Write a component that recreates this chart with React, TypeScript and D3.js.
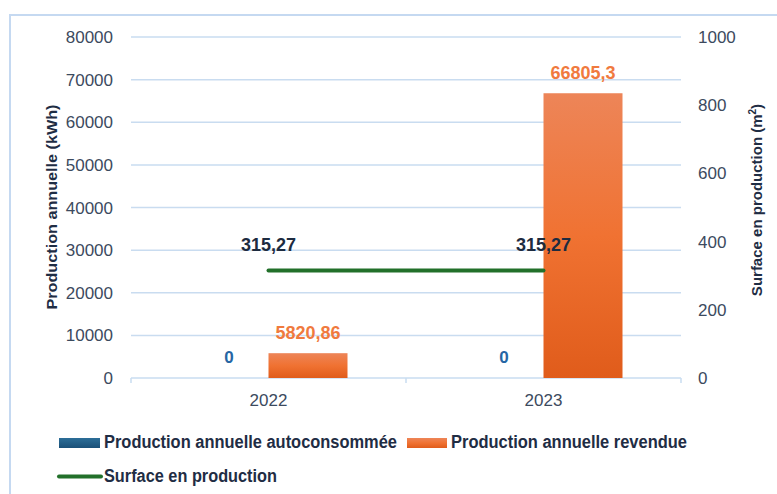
import React from "react";
import * as d3 from "d3";

const categories = ["2022", "2023"];
const autoconsommee = [0, 0];
const revendue = [5820.86, 66805.3];
const surface = [315.27, 315.27];
const leftTicks = [0, 10000, 20000, 30000, 40000, 50000, 60000, 70000, 80000];
const rightTicks = [0, 200, 400, 600, 800, 1000];

const fmt = (v: number) => String(v).replace(".", ",");

export default function App() {
  const W = 777, H = 494;
  const left = 131, right = 681, top = 37, bottom = 378;
  const x = d3.scaleBand<string>().domain(categories).range([left, right]);
  const yL = d3.scaleLinear().domain([0, 80000]).range([bottom, top]);
  const yR = d3.scaleLinear().domain([0, 1000]).range([bottom, top]);
  const barW = 79;
  const tickColor = "#3c4a5e";
  const grid = "#c9dcf0";
  const font = "'Liberation Sans', Arial, sans-serif";
  const legendFont = "'Liberation Sans Narrow', 'Arial Narrow', 'Liberation Sans', sans-serif";
  const line = d3.line<number>().x((_, i) => x(categories[i])! + x.bandwidth() / 2).y((d) => yR(d));

  return (
    <svg width={W} height={H} style={{ position: "absolute", left: 0, top: 0 }}>
      <defs>
        <linearGradient id="og" x1="0" y1="0" x2="0" y2="1">
          <stop offset="0" stopColor="#ed8558" />
          <stop offset="0.5" stopColor="#f07232" />
          <stop offset="1" stopColor="#e05c1b" />
        </linearGradient>
        <linearGradient id="bg" x1="0" y1="0" x2="0" y2="1">
          <stop offset="0" stopColor="#2c6e98" />
          <stop offset="1" stopColor="#1a5078" />
        </linearGradient>
      </defs>
      <rect x={0} y={0} width={W} height={H} fill="#fff" />
      <rect x={10} y={15} width={W} height={H} fill="none" stroke="#c5d9f1" strokeWidth={2} />
      {leftTicks.map((t) => (
        <g key={t}>
          {t > 0 && <line x1={left} x2={right} y1={yL(t)} y2={yL(t)} stroke={grid} strokeWidth={1.5} />}
          <text x={113} y={yL(t) + 6} textAnchor="end" fontSize={17} fill={tickColor} fontFamily={font}>{t}</text>
        </g>
      ))}
      {rightTicks.map((t) => (
        <text key={t} x={698} y={yR(t) + 6} fontSize={17} fill={tickColor} fontFamily={font}>{t}</text>
      ))}
      <line x1={left} x2={right} y1={bottom} y2={bottom} stroke={grid} strokeWidth={1.5} />
      {[left, left + x.step(), right].map((tx) => (
        <line key={tx} x1={tx} x2={tx} y1={bottom} y2={bottom + 5} stroke={grid} strokeWidth={1.5} />
      ))}
      {categories.map((c, i) => {
        const cx = x(c)! + x.bandwidth() / 2;
        return (
          <g key={c}>
            <rect x={cx - barW} y={yL(autoconsommee[i])} width={barW} height={bottom - yL(autoconsommee[i])} fill="url(#bg)" />
            <rect x={cx} y={yL(revendue[i])} width={barW} height={bottom - yL(revendue[i])} fill="url(#og)" />
            <text x={cx - barW / 2} y={363} textAnchor="middle" fontSize={17} fontWeight="bold" fill="#2566a4" fontFamily={font}>{fmt(autoconsommee[i])}</text>
            <text x={cx + barW / 2} y={yL(revendue[i]) - 14} textAnchor="middle" fontSize={18} fontWeight="bold" fill="#f07a3e" fontFamily={font}>{fmt(revendue[i])}</text>
            <text x={cx} y={406} textAnchor="middle" fontSize={17} fill={tickColor} fontFamily={font}>{c}</text>
          </g>
        );
      })}
      <path d={line(surface)!} fill="none" stroke="#22702a" strokeWidth={4} strokeLinecap="round" />
      {categories.map((c, i) => {
        const cx = x(c)! + x.bandwidth() / 2;
        return (
          <text key={c} x={cx} y={yR(surface[i]) - 19} textAnchor="middle" fontSize={18} fontWeight="bold" fill="#1d2b40" fontFamily={font}>{fmt(surface[i])}</text>
        );
      })}
      <text transform="translate(57,207) rotate(-90)" textAnchor="middle" fontSize={15} fontWeight="bold" fill="#1f2d44" fontFamily={font} textLength={205} lengthAdjust="spacingAndGlyphs">Production annuelle (kWh)</text>
      <text transform="translate(762,200) rotate(-90)" textAnchor="middle" fontSize={15} fontWeight="bold" fill="#1f2d44" fontFamily={font}>
        Surface en production (m<tspan fontSize={10} dy={-6}>2</tspan><tspan dy={6}>)</tspan>
      </text>
      <rect x={59} y={438} width={41} height={10} fill="url(#bg)" />
      <text x={104} y={448} fontSize={18} fontWeight="bold" fill="#1f2d44" fontFamily={legendFont} textLength={293} lengthAdjust="spacingAndGlyphs">Production annuelle autoconsommée</text>
      <rect x={407} y={438} width={40} height={10} fill="url(#og)" />
      <text x={451} y={448} fontSize={18} fontWeight="bold" fill="#1f2d44" fontFamily={legendFont} textLength={236} lengthAdjust="spacingAndGlyphs">Production annuelle revendue</text>
      <line x1={59} x2={101} y1={476.5} y2={476.5} stroke="#22702a" strokeWidth={4} strokeLinecap="round" />
      <text x={104} y={482} fontSize={18} fontWeight="bold" fill="#1f2d44" fontFamily={legendFont} textLength={173} lengthAdjust="spacingAndGlyphs">Surface en production</text>
    </svg>
  );
}
